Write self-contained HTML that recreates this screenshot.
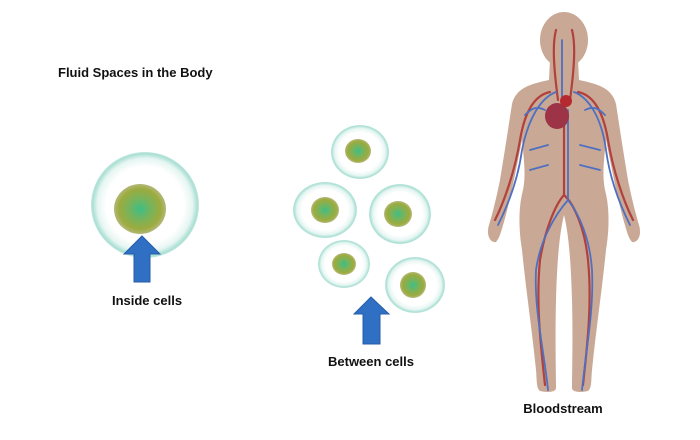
<!DOCTYPE html>
<html><head><meta charset="utf-8"><style>
html,body{margin:0;padding:0;background:#fff;width:700px;height:440px;overflow:hidden}
svg{display:block}
text{font-family:"Liberation Sans",sans-serif;font-weight:bold;fill:#111}
</style></head><body>
<svg width="700" height="440" viewBox="0 0 700 440">
<defs>
<radialGradient id="cell" cx="50%" cy="50%" r="50%">
<stop offset="0" stop-color="#ffffff"/><stop offset="0.72" stop-color="#ffffff"/><stop offset="0.88" stop-color="#e6f6f2"/><stop offset="0.97" stop-color="#aadfd3"/><stop offset="1" stop-color="#c4e9e1"/>
</radialGradient>
<radialGradient id="nuc" cx="50%" cy="50%" r="50%">
<stop offset="0" stop-color="#3cbf86"/><stop offset="0.4" stop-color="#74b45e"/><stop offset="0.8" stop-color="#9cab3e"/><stop offset="1" stop-color="#b3b879"/>
</radialGradient>
</defs>
<text x="58" y="77" font-size="13">Fluid Spaces in the Body</text>

<ellipse cx="145" cy="205" rx="54" ry="53" fill="url(#cell)"/>
<ellipse cx="140" cy="209" rx="26" ry="25" fill="url(#nuc)"/>
<polygon points="142,236 160,254 150,254 150,282 134,282 134,254 124,254" fill="#2f6fc4" stroke="#275ea8"/>
<text x="147" y="305" font-size="13" text-anchor="middle">Inside cells</text>

<g>
<ellipse cx="360" cy="152" rx="29" ry="27" fill="url(#cell)"/><ellipse cx="358" cy="151" rx="13" ry="12" fill="url(#nuc)"/>
<ellipse cx="325" cy="210" rx="32" ry="28" fill="url(#cell)"/><ellipse cx="325" cy="210" rx="14" ry="13" fill="url(#nuc)"/>
<ellipse cx="400" cy="214" rx="31" ry="30" fill="url(#cell)"/><ellipse cx="398" cy="214" rx="14" ry="13" fill="url(#nuc)"/>
<ellipse cx="344" cy="264" rx="26" ry="24" fill="url(#cell)"/><ellipse cx="344" cy="264" rx="12" ry="11" fill="url(#nuc)"/>
<ellipse cx="415" cy="285" rx="30" ry="28" fill="url(#cell)"/><ellipse cx="413" cy="285" rx="13" ry="13" fill="url(#nuc)"/>
</g>
<polygon points="371,297 389,314 380,314 380,344 363,344 363,314 354,314" fill="#2f6fc4" stroke="#275ea8"/>
<text x="371" y="366" font-size="13" text-anchor="middle">Between cells</text>

<g fill="#c9a995">
<ellipse cx="564" cy="40" rx="24" ry="28"/>
<path d="M550,60 L549,80 C530,84 516,88 512,104 C508,130 505,150 500,180 C496,200 492,215 489,225 C486,235 490,243 496,242 C500,238 502,228 504,222 C510,200 514,180 518,160 L522,140 C524,160 526,175 523,190 C519,205 518,225 522,250 C526,290 532,330 536,370 C537,380 536,388 540,391 C548,393 556,392 556,388 C556,370 555,340 556,300 C557,265 559,235 564,215 C569,235 571,265 572,300 C573,340 572,370 572,388 C572,392 580,393 588,391 C592,388 591,380 592,370 C596,330 602,290 606,250 C610,225 609,205 605,190 C602,175 604,160 606,140 L610,160 C614,180 618,200 624,222 C626,228 628,238 632,242 C638,243 642,235 639,225 C636,215 632,200 628,180 C623,150 620,130 616,104 C612,88 598,84 579,80 L578,60 Z"/>
</g>
<g fill="none" stroke-linecap="round">
<path d="M564,115 L564,195 M564,195 C555,205 545,230 540,260 C536,300 540,340 545,385 M564,195 C575,205 585,230 588,260 C592,300 588,340 583,385 M550,92 C535,95 525,110 520,140 C515,170 505,200 495,220 M578,92 C593,95 603,110 608,140 C613,170 623,200 633,220 M556,30 C552,45 554,70 558,100 M572,30 C576,45 574,70 570,100" stroke="#b2403c" stroke-width="2.2"/>
<path d="M568,110 L568,200 C580,215 590,240 592,270 C594,310 586,350 582,390 M568,200 C555,215 540,240 536,270 C534,310 544,350 548,390 M556,92 C540,98 528,120 522,150 C518,180 508,205 498,225 M574,92 C590,98 602,120 606,150 C610,180 620,205 630,225 M562,40 L562,100 M545,110 C535,105 530,110 525,115 M585,110 C595,105 600,110 605,115 M548,145 L530,150 M580,145 L600,150 M548,165 L530,170 M580,165 L600,170" stroke="#4f6fc0" stroke-width="1.8"/>
</g>
<ellipse cx="557" cy="116" rx="12" ry="13" fill="#9c3346"/>
<ellipse cx="566" cy="101" rx="6" ry="6" fill="#b52a30"/>
<text x="563" y="413" font-size="13" text-anchor="middle">Bloodstream</text>
</svg>
</body></html>
